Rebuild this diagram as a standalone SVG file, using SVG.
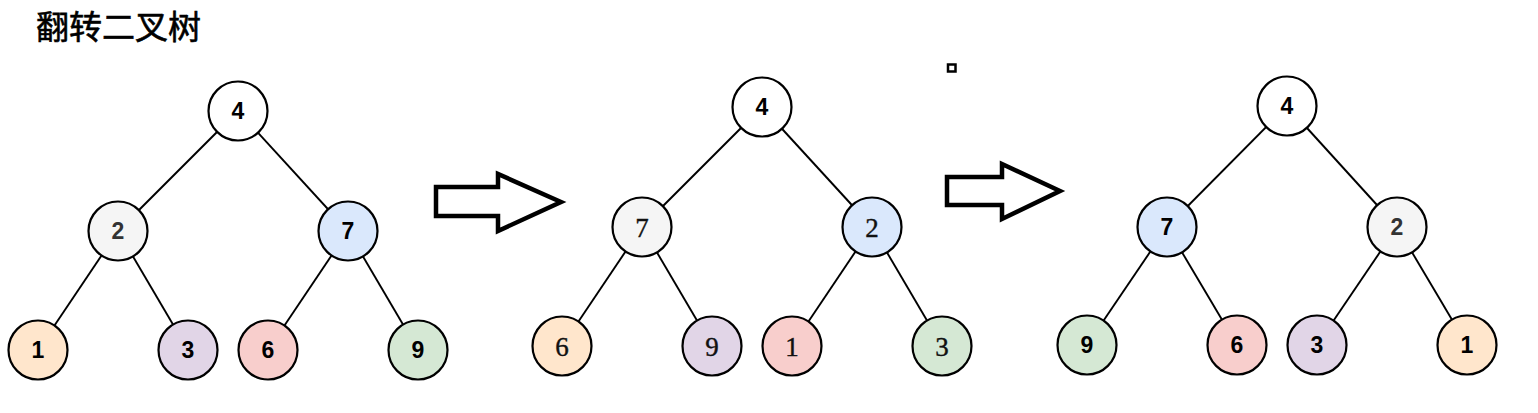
<svg xmlns="http://www.w3.org/2000/svg" width="1538" height="413" viewBox="0 0 1538 413">
<style>
.n{stroke:#000;stroke-width:2.2}
.t{font-family:"Liberation Sans",Arial,sans-serif;font-weight:bold;font-size:23px;text-anchor:middle;fill:#000}
.s{font-family:"Liberation Serif","Times New Roman",serif;font-size:27px;text-anchor:middle;fill:#111;stroke:#111;stroke-width:0.4}
.g{fill:#333}
.e line{stroke:#000;stroke-width:1.9}
.arr{fill:#fff;stroke:#000;stroke-width:4.5;stroke-linejoin:miter}
</style>
<rect width="1538" height="413" fill="#fff"/>
<text x="36" y="39" font-family="'Noto Sans CJK SC',sans-serif" font-size="33" fill="#000" stroke="#000" stroke-width="0.6">翻转二叉树</text>
<g id="connectors" class="e">
<line x1="238" y1="111" x2="118" y2="231"/>
<line x1="238" y1="111" x2="348" y2="231"/>
<line x1="118" y1="231" x2="38" y2="350"/>
<line x1="118" y1="231" x2="188" y2="350"/>
<line x1="348" y1="231" x2="268" y2="350"/>
<line x1="348" y1="231" x2="418" y2="350"/>
<line x1="762" y1="107" x2="642" y2="227"/>
<line x1="762" y1="107" x2="872" y2="227"/>
<line x1="642" y1="227" x2="562" y2="346"/>
<line x1="642" y1="227" x2="712" y2="346"/>
<line x1="872" y1="227" x2="792" y2="346"/>
<line x1="872" y1="227" x2="942" y2="346"/>
<line x1="1287" y1="106" x2="1167" y2="227"/>
<line x1="1287" y1="106" x2="1397" y2="227"/>
<line x1="1167" y1="227" x2="1087" y2="345"/>
<line x1="1167" y1="227" x2="1237" y2="345"/>
<line x1="1397" y1="227" x2="1317" y2="345"/>
<line x1="1397" y1="227" x2="1467" y2="345"/>
</g>
<!-- tree 1 -->
<g id="a4"><circle class="n" cx="238" cy="111" r="29.5" fill="#fff"/><text class="t" x="238" y="119">4</text></g>
<g id="a2"><circle class="n" cx="118" cy="231" r="29.5" fill="#f5f5f5"/><text class="t g" x="118" y="239">2</text></g>
<g id="a7"><circle class="n" cx="348" cy="231" r="29.5" fill="#dae8fc"/><text class="t" x="348" y="239">7</text></g>
<g id="a1"><circle class="n" cx="38" cy="350" r="29.5" fill="#ffe6cc"/><text class="t" x="38" y="358">1</text></g>
<g id="a3"><circle class="n" cx="188" cy="350" r="29.5" fill="#e1d5e7"/><text class="t" x="188" y="358">3</text></g>
<g id="a6"><circle class="n" cx="268" cy="350" r="29.5" fill="#f8cecc"/><text class="t" x="268" y="358">6</text></g>
<g id="a9"><circle class="n" cx="418" cy="350" r="29.5" fill="#d5e8d4"/><text class="t" x="418" y="358">9</text></g>
<!-- arrows -->
<g id="arrow1"><polygon class="arr" points="436,187 498,187 498,174 561,202 498,231 498,216 436,216"/></g>
<g id="arrow2"><polygon class="arr" points="947,177 1002,177 1002,164 1060,191 1002,219 1002,205 947,205"/></g>
<g id="mark"><rect x="948" y="64.5" width="7.5" height="7" fill="#fff" stroke="#000" stroke-width="2.5"/></g>
<!-- tree 2 -->
<g id="b4"><circle class="n" cx="762" cy="107" r="29.5" fill="#fff"/><text class="t" x="762" y="115">4</text></g>
<g id="b7"><circle class="n" cx="642" cy="227" r="29.5" fill="#f5f5f5"/><text class="s" x="642" y="236.5">7</text></g>
<g id="b2"><circle class="n" cx="872" cy="227" r="29.5" fill="#dae8fc"/><text class="s" x="872" y="236.5">2</text></g>
<g id="b6"><circle class="n" cx="562" cy="346" r="29.5" fill="#ffe6cc"/><text class="s" x="562" y="355.5">6</text></g>
<g id="b9"><circle class="n" cx="712" cy="346" r="29.5" fill="#e1d5e7"/><text class="s" x="712" y="355.5">9</text></g>
<g id="b1"><circle class="n" cx="792" cy="346" r="29.5" fill="#f8cecc"/><text class="s" x="792" y="355.5">1</text></g>
<g id="b3"><circle class="n" cx="942" cy="346" r="29.5" fill="#d5e8d4"/><text class="s" x="942" y="355.5">3</text></g>
<!-- tree 3 -->
<g id="c4"><circle class="n" cx="1287" cy="106" r="29.5" fill="#fff"/><text class="t" x="1287" y="114">4</text></g>
<g id="c7"><circle class="n" cx="1167" cy="227" r="29.5" fill="#dae8fc"/><text class="t" x="1167" y="235">7</text></g>
<g id="c2"><circle class="n" cx="1397" cy="227" r="29.5" fill="#f5f5f5"/><text class="t g" x="1397" y="235">2</text></g>
<g id="c9"><circle class="n" cx="1087" cy="345" r="29.5" fill="#d5e8d4"/><text class="t" x="1087" y="353">9</text></g>
<g id="c6"><circle class="n" cx="1237" cy="345" r="29.5" fill="#f8cecc"/><text class="t" x="1237" y="353">6</text></g>
<g id="c3"><circle class="n" cx="1317" cy="345" r="29.5" fill="#e1d5e7"/><text class="t" x="1317" y="353">3</text></g>
<g id="c1"><circle class="n" cx="1467" cy="345" r="29.5" fill="#ffe6cc"/><text class="t" x="1467" y="353">1</text></g>
</svg>
